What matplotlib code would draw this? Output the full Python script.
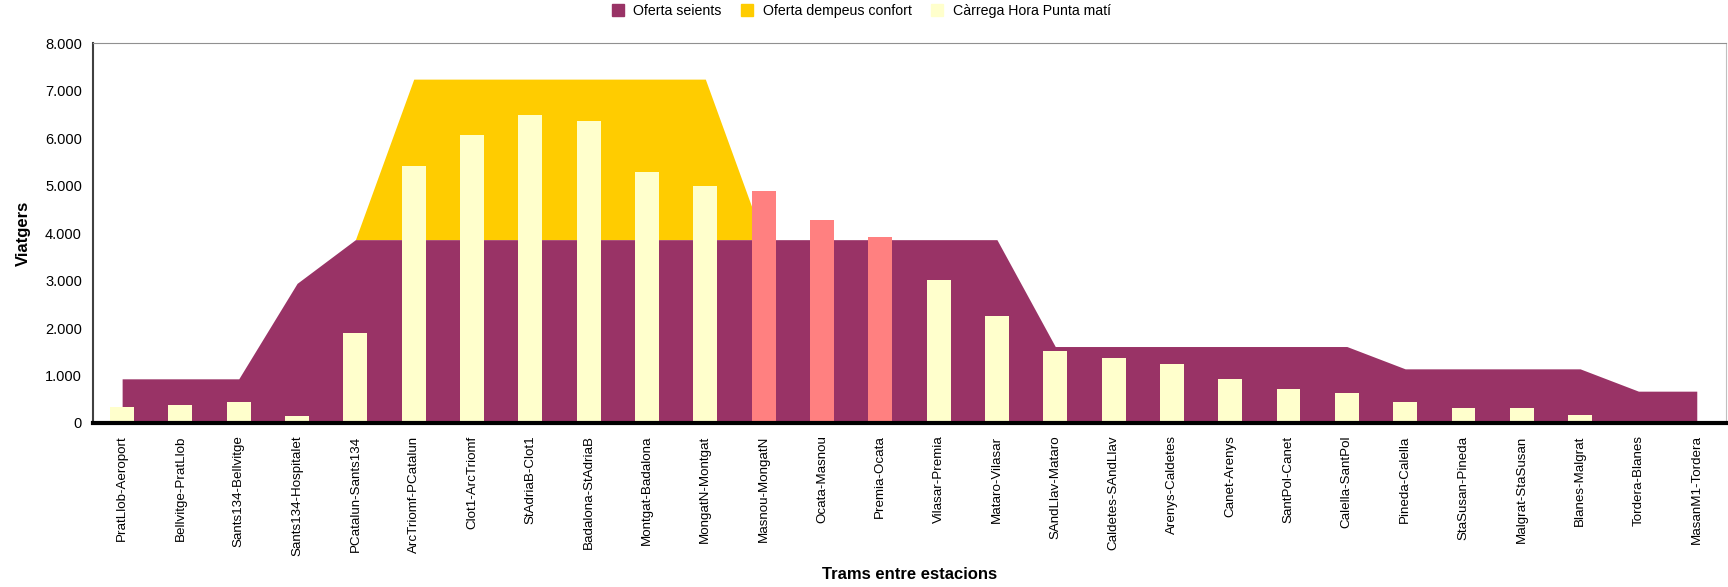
import matplotlib.pyplot as plt
import numpy as np
from matplotlib.lines import Line2D
from matplotlib.ticker import FuncFormatter

plt.rcParams['font.family'] = ['Liberation Sans', 'DejaVu Sans']

trams = ['PratLlob-Aeroport', 'Bellvitge-PratLlob', 'Sants134-Bellvitge', 'Sants134-Hospitalet',
         'PCatalun-Sants134', 'ArcTriomf-PCatalun', 'Clot1-ArcTriomf', 'StAdriaB-Clot1',
         'Badalona-StAdriaB', 'Montgat-Badalona', 'MongatN-Montgat', 'Masnou-MongatN',
         'Ocata-Masnou', 'Premia-Ocata', 'Vilasar-Premia', 'Mataro-Vilasar',
         'SAndLlav-Mataro', 'Caldetes-SAndLlav', 'Arenys-Caldetes', 'Canet-Arenys',
         'SantPol-Canet', 'Calella-SantPol', 'Pineda-Calella', 'StaSusan-Pineda',
         'Malgrat-StaSusan', 'Blanes-Malgrat', 'Tordera-Blanes', 'MasanM1-Tordera']

oferta_seients = [930, 930, 930, 2940, 3860, 3860, 3860, 3860, 3860, 3860, 3860, 3860, 3860, 3860,
                  3860, 3860, 1610, 1610, 1610, 1610, 1610, 1610, 1140, 1140, 1140, 1140, 670, 670]
oferta_dempeus = [0, 0, 0, 0, 0, 3380, 3380, 3380, 3380, 3380, 3380, 0, 0, 0,
                  0, 0, 0, 0, 0, 0, 0, 0, 0, 0, 0, 0, 0, 0]
carrega_punta = [340, 380, 440, 140, 1900, 5420, 6060, 6480, 6350, 5290, 5000, 4890, 4280, 3920,
                 3020, 2260, 1510, 1370, 1240, 920, 710, 630, 440, 315, 315, 170, 0, 0]

c_seients = '#993366'
c_dempeus = '#FFCC00'
c_carrega = '#FFFFCC'
c_excess = '#FF8080'

x = np.arange(len(trams))
seients = np.array(oferta_seients)
total = seients + np.array(oferta_dempeus)
carrega = np.array(carrega_punta)
# load above the whole offer is painted in red
bar_colors = [c_excess if c > t else c_carrega for c, t in zip(carrega, total)]

fig = plt.figure(figsize=(17.28, 5.87), dpi=100)
ax = fig.add_axes([0.0538, 0.2794, 0.945, 0.6473])

ax.fill_between(x, seients, total, color=c_dempeus, linewidth=0, zorder=1)
ax.fill_between(x, 0, seients, color=c_seients, linewidth=0, zorder=2)
ax.bar(x, carrega, width=0.41, color=bar_colors, zorder=3)

ax.set_xlim(-0.5, len(trams) - 0.5)
ax.set_ylim(0, 8000)
ax.set_yticks(np.arange(0, 8001, 1000))
ax.yaxis.set_major_formatter(FuncFormatter(lambda v, p: f'{v:,.0f}'.replace(',', '.')))
ax.set_xticks(x)
ax.set_xticklabels(trams, rotation=90, fontsize=9.6)
ax.tick_params(axis='both', length=0)
ax.tick_params(axis='y', labelsize=10.5, pad=8)
ax.tick_params(axis='x', pad=9)

ax.spines['left'].set_color('#404040')
ax.spines['left'].set_linewidth(1.5)
ax.spines['top'].set_color('#909090')
ax.spines['right'].set_color('#c0c0c0')
ax.spines['bottom'].set_color('black')
ax.spines['bottom'].set_linewidth(3)
ax.spines['bottom'].set_zorder(5)

ax.set_ylabel('Viatgers', fontsize=12, fontweight='bold', labelpad=10)
fig.text(0.5263, 0.022, 'Trams entre estacions', fontsize=12, fontweight='bold',
         ha='center', va='center')

handles = [Line2D([], [], marker='s', linestyle='none', markersize=8, color=c)
           for c in (c_seients, c_dempeus, c_carrega)]
fig.legend(handles, ['Oferta seients', 'Oferta dempeus confort', 'Càrrega Hora Punta matí'],
           loc='center', bbox_to_anchor=(0.496, 0.981), ncol=3, frameon=False,
           fontsize=10.2, handletextpad=0.1, columnspacing=0.8)

fig.savefig('out.png', dpi=100)
